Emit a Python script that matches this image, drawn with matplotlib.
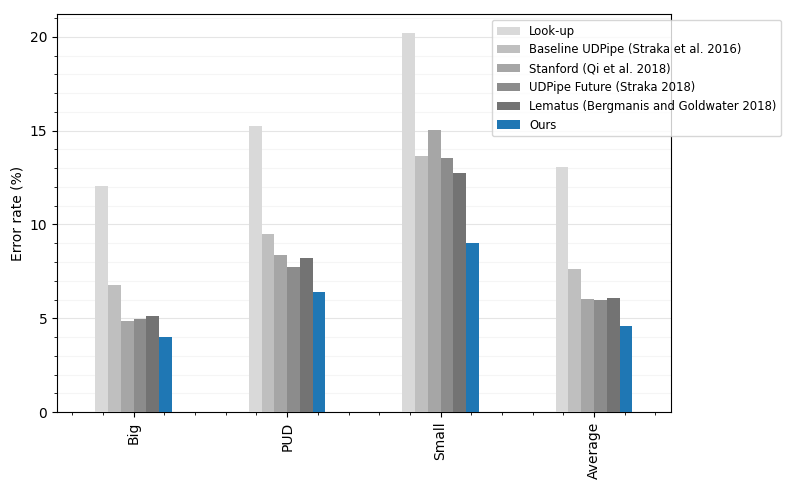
import numpy as np
import pandas as pd
import matplotlib.pyplot as plt
from matplotlib.ticker import MultipleLocator

datasets = ['Big', 'PUD', 'Small', 'Average']
methods = ['Look-up', 'Baseline UDPipe (Straka et al. 2016)', 'Stanford (Qi et al. 2018)',
           'UDPipe Future (Straka 2018)', 'Lematus (Bergmanis and Goldwater 2018)', 'Ours']
lookup = [12.07, 15.27, 20.2, 13.09]
baseline = [6.76, 9.47, 13.67, 7.61]
stanford = [4.84, 8.40, 15.05, 6.01]
udpipe_future = [4.95, 7.71, 13.56, 5.96]
lematus = [5.10, 8.24, 12.77, 6.06]
ours = [3.99, 6.38, 8.99, 4.57]

colors = ['#d9d9d9', '#bfbfbf', '#a6a6a6', '#8c8c8c', '#737373', '#1f77b4']

df = pd.DataFrame({methods[0]: lookup, methods[1]: baseline, methods[2]: stanford,
                   methods[3]: udpipe_future, methods[4]: lematus, methods[5]: ours},
                  index=datasets)

fig, ax = plt.subplots(figsize=(7.91, 4.9), dpi=100)
fig.subplots_adjust(left=0.072, right=0.848, top=0.971, bottom=0.159)
df.plot.bar(ax=ax, color=colors, rot=90, zorder=3)

ax.yaxis.set_major_locator(MultipleLocator(5))
ax.yaxis.set_minor_locator(MultipleLocator(1))
ax.xaxis.set_minor_locator(MultipleLocator(0.2))
ax.grid(axis='y', which='major', color='#e5e5e5', linewidth=0.8, zorder=0)
ax.grid(axis='y', which='minor', color='#f5f5f5', linewidth=0.8, zorder=0)
ax.set_axisbelow(True)
ax.set_ylabel('Error rate (%)')
ax.legend(loc='upper right', bbox_to_anchor=(1.189, 1.0), fontsize='small')

plt.savefig('out.png')
